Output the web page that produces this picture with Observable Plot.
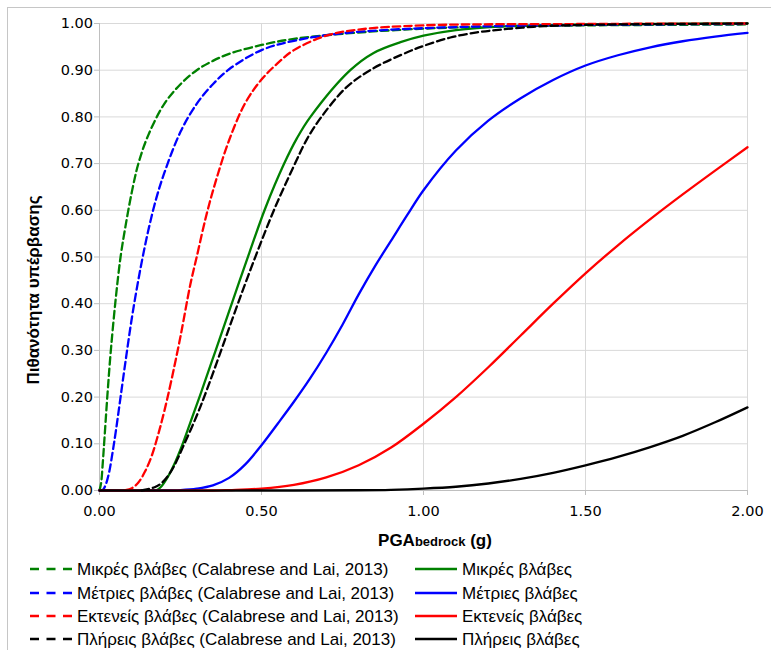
<!DOCTYPE html>
<html><head><meta charset="utf-8">
<script src="https://cdn.jsdelivr.net/npm/d3@7"></script>
<script src="https://cdn.jsdelivr.net/npm/@observablehq/plot@0.6"></script>
<style>
html,body{margin:0;padding:0;overflow:hidden;background:#fff;width:771px;height:650px}
#frame{position:absolute;left:7px;top:7px;width:800px;height:700px;border:1px solid #c6c6c6;box-sizing:border-box}
#chart{position:absolute;left:0;top:0}
#legend{position:absolute;left:0;top:550px}
</style></head><body>
<div id="frame"></div>
<div id="chart"></div>
<div id="legend"></div>
<script>
// ---- data ----
const xTicks = [0, 0.5, 1, 1.5, 2];
const yTicks = [0, 0.1, 0.2, 0.3, 0.4, 0.5, 0.6, 0.7, 0.8, 0.9, 1.0];

// Calabrese and Lai, 2013 (dashed)
const xGD = [0, 0.005, 0.01, 0.015, 0.025, 0.035, 0.05, 0.065, 0.08, 0.1, 0.12, 0.15, 0.2, 0.25, 0.3, 0.35, 0.4, 0.5, 0.6, 0.75, 1.0, 1.25, 1.5, 2.0];
const yGD = [0, 0.016, 0.058, 0.108, 0.21, 0.30, 0.41, 0.50, 0.565, 0.64, 0.70, 0.76, 0.828, 0.87, 0.9, 0.92, 0.935, 0.954, 0.967, 0.978, 0.989, 0.994, 0.996, 0.998];

const xBD = [0, 0.01, 0.02, 0.03, 0.04, 0.05, 0.065, 0.08, 0.1, 0.125, 0.15, 0.175, 0.2, 0.25, 0.3, 0.35, 0.4, 0.5, 0.6, 0.75, 1.0, 1.5, 2.0];
const yBD = [0, 0.001, 0.014, 0.04, 0.08, 0.125, 0.20, 0.275, 0.37, 0.47, 0.555, 0.625, 0.68, 0.768, 0.828, 0.87, 0.902, 0.943, 0.963, 0.979, 0.99, 0.997, 0.999];

const xRD = [0.08, 0.1, 0.12, 0.14, 0.16, 0.18, 0.2, 0.22, 0.25, 0.28, 0.3, 0.33, 0.36, 0.4, 0.45, 0.5, 0.55, 0.6, 0.7, 0.8, 1.0, 1.5, 2.0];
const yRD = [0.001, 0.005, 0.017, 0.04, 0.072, 0.117, 0.17, 0.23, 0.33, 0.44, 0.5, 0.59, 0.665, 0.75, 0.83, 0.88, 0.915, 0.943, 0.974, 0.987, 0.996, 0.999, 1.0];

const xKD = [0.13, 0.15, 0.17, 0.19, 0.21, 0.23, 0.262, 0.3, 0.33, 0.378, 0.426, 0.482, 0.54, 0.6, 0.64, 0.685, 0.76, 0.84, 0.955, 1.0, 1.083, 1.165, 1.24, 1.34, 1.44, 1.6, 2.0];
const yKD = [0, 0.003, 0.007, 0.015, 0.03, 0.052, 0.1, 0.16, 0.213, 0.305, 0.398, 0.502, 0.603, 0.695, 0.752, 0.8, 0.862, 0.902, 0.94, 0.952, 0.97, 0.981, 0.987, 0.993, 0.996, 0.998, 1.0];

// this study (solid)
const xGS = [0, 0.16, 0.177, 0.19, 0.21, 0.23, 0.254, 0.28, 0.311, 0.357, 0.409, 0.463, 0.512, 0.57, 0.61, 0.651, 0.774, 0.846, 0.929, 1.0, 1.1, 1.25, 1.5, 2.0];
const yGS = [0, 0, 0.001, 0.008, 0.028, 0.055, 0.095, 0.145, 0.205, 0.297, 0.402, 0.51, 0.605, 0.70, 0.755, 0.80, 0.9, 0.937, 0.96, 0.974, 0.986, 0.994, 0.998, 1.0];

const xBS = [0, 0.2, 0.25, 0.3, 0.35, 0.4, 0.45, 0.5, 0.55, 0.6, 0.65, 0.7, 0.75, 0.8, 0.85, 0.9, 0.95, 1.0, 1.1, 1.2, 1.3, 1.4, 1.5, 1.6, 1.7, 1.8, 1.9, 2.0];
const yBS = [0, 0, 0.001, 0.004, 0.011, 0.027, 0.056, 0.097, 0.143, 0.19, 0.24, 0.295, 0.355, 0.42, 0.48, 0.535, 0.59, 0.643, 0.728, 0.792, 0.84, 0.879, 0.91, 0.932, 0.949, 0.962, 0.972, 0.98];

const xRS = [0, 0.35, 0.4, 0.5, 0.6, 0.7, 0.8, 0.9, 1.0, 1.1, 1.2, 1.3, 1.4, 1.5, 1.6, 1.7, 1.8, 1.9, 2.0];
const yRS = [0, 0, 0.001, 0.004, 0.012, 0.028, 0.054, 0.092, 0.143, 0.2, 0.264, 0.332, 0.40, 0.465, 0.525, 0.581, 0.634, 0.685, 0.735];

const xKS = [0, 0.6, 0.8, 0.9, 1.0, 1.1, 1.2, 1.3, 1.4, 1.5, 1.6, 1.7, 1.8, 1.9, 2.0];
const yKS = [0, 0, 0.0005, 0.0015, 0.004, 0.008, 0.015, 0.025, 0.038, 0.054, 0.072, 0.093, 0.117, 0.146, 0.178];

const labels = [
  "Μικρές βλάβες (Calabrese and Lai, 2013)", "Μικρές βλάβες",
  "Μέτριες βλάβες (Calabrese and Lai, 2013)", "Μέτριες βλάβες",
  "Εκτενείς βλάβες (Calabrese and Lai, 2013)", "Εκτενείς βλάβες",
  "Πλήρεις βλάβες (Calabrese and Lai, 2013)", "Πλήρεις βλάβες"
];
const colors = ["#008000", "#008000", "#0000ff", "#0000ff", "#ff0000", "#ff0000", "#000000", "#000000"];
const dashed = [true, false, true, false, true, false, true, false];
const xs = [xGD, xGS, xBD, xBS, xRD, xRS, xKD, xKS];
const ys = [yGD, yGS, yBD, yBS, yRD, yRS, yKD, yKS];

// ---- chart ----
const DASH = "7.5,4";
const lineMarks = xs.map((xa, i) => Plot.line(
  xa.map((x, j) => ({x, y: ys[i][j]})),
  {x: "x", y: "y", stroke: colors[i], strokeWidth: 2.3,
   strokeDasharray: dashed[i] ? DASH : null, curve: "catmull-rom"}
));

const fmt = d => d.toFixed(2);
const chart = Plot.plot({
  width: 771, height: 550,
  marginLeft: 99, marginRight: 24, marginTop: 23, marginBottom: 60,
  style: {fontFamily: "DejaVu Sans", fontSize: "14.5px", color: "#000", background: "transparent", overflow: "visible"},
  x: {domain: [0, 2]},
  y: {domain: [0, 1]},
  marks: [
    Plot.gridX(xTicks, {stroke: "#d9d9d9", strokeOpacity: 1}),
    Plot.gridY(yTicks, {stroke: "#d9d9d9", strokeOpacity: 1}),
    Plot.ruleX([0], {stroke: "#bfbfbf"}),
    Plot.ruleY([0], {stroke: "#bfbfbf"}),
    Plot.axisX(xTicks, {tickSize: 5, tickPadding: 10, stroke: "#bfbfbf", tickFormat: fmt, label: null}),
    Plot.axisY(yTicks, {tickSize: 5, tickPadding: 1.5, stroke: "#bfbfbf", tickFormat: fmt, label: null}),
    ...lineMarks
  ]
});
document.getElementById("chart").appendChild(chart);

const svg = d3.select(chart);
svg.append("text")
  .attr("transform", "translate(39,290) rotate(-90)")
  .attr("text-anchor", "middle")
  .attr("font-family", "Liberation Sans, Arial, sans-serif")
  .attr("font-weight", "bold").attr("font-size", 17).attr("fill", "#000")
  .text("Πιθανότητα υπέρβασης");
const xt = svg.append("text")
  .attr("x", 435).attr("y", 546)
  .attr("text-anchor", "middle")
  .attr("font-family", "Liberation Sans, Arial, sans-serif")
  .attr("font-weight", "bold").attr("fill", "#000");
xt.append("tspan").attr("font-size", 17).text("PGA");
xt.append("tspan").attr("font-size", 13).text("bedrock");
xt.append("tspan").attr("font-size", 17).text(" (g)");

// ---- legend (below the plot) ----
const lg = d3.select("#legend").append("svg").attr("width", 771).attr("height", 100);
const rowY = [19, 43, 66, 89];
labels.forEach((lab, i) => {
  const row = Math.floor(i / 2), col = i % 2;
  const y = rowY[row];
  const x0 = col === 0 ? 30 : 415;
  lg.append("line").attr("x1", x0).attr("x2", x0 + 42).attr("y1", y).attr("y2", y)
    .attr("stroke", colors[i]).attr("stroke-width", 2.3)
    .attr("stroke-dasharray", dashed[i] ? "9,7.5" : null);
  lg.append("text").attr("x", x0 + 47).attr("y", y + 6)
    .attr("font-family", "Liberation Sans, Arial, sans-serif").attr("font-size", 17).attr("fill", "#000")
    .text(lab);
});
</script></body></html>
